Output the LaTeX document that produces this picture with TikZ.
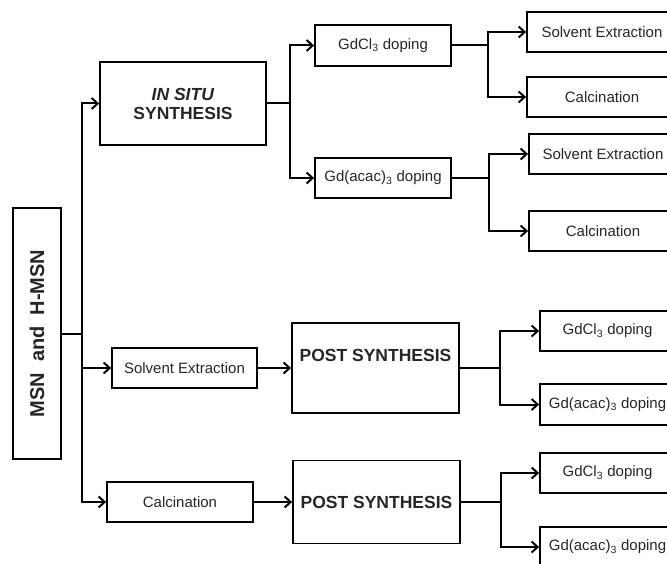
\documentclass[tikz,border=0pt]{standalone}
\usepackage{fontspec}
\setmainfont{Liberation Sans}
\usetikzlibrary{arrows.meta}
\begin{document}
\begin{tikzpicture}[x=1pt,y=-1pt,
  box/.style={draw, line width=1.8pt, rectangle, inner sep=0pt, align=center, text=black!85},
  small/.style={box, font=\fontsize{15}{17}\selectfont},
  big/.style={box, font=\bfseries\fontsize{17.5}{19}\selectfont},
  conn/.style={draw, line width=2pt},
  arr/.style={conn, -{Straight Barb[length=6pt,width=11pt,line width=2pt]}},
  ]
\useasboundingbox (0,0) rectangle (667,564);
\clip (0,0) rectangle (667,564);
% main box
\node[box, rotate=90, minimum width=251, minimum height=48,
      font=\bfseries\fontsize{20}{22}\selectfont] (msn) at (37,333.5) {MSN\ \ and\ \ H-MSN};
% in situ branch
\node[big, minimum width=166, minimum height=83] (insitu) at (183,103.5) {\textit{IN SITU}\\SYNTHESIS};
\node[small, minimum width=136, minimum height=41] (gdclA) at (383,45.5) {GdCl\textsubscript{3} doping};
\node[small, minimum width=136, minimum height=40] (gdacA) at (383,178) {Gd(acac)\textsubscript{3} doping};
\node[small, minimum width=150, minimum height=40] (seA) at (602,32) {Solvent Extraction};
\node[small, minimum width=150, minimum height=40] (caA) at (602,97) {Calcination};
\node[small, minimum width=148, minimum height=40] (seB) at (603,154) {Solvent Extraction};
\node[small, minimum width=148, minimum height=40] (caB) at (603,231) {Calcination};
% post synthesis branches
\node[small, minimum width=145, minimum height=40] (seL) at (184.5,368) {Solvent Extraction};
\node[small, minimum width=146, minimum height=40] (caL) at (180,502) {Calcination};
\node[box, minimum width=167, minimum height=90] (post1) at (375.5,368) {};
\node[font=\bfseries\fontsize{17.5}{19}\selectfont, text=black!85] (post1t) at ([yshift=13pt]post1.center) {POST SYNTHESIS};
\node[big, minimum width=167, minimum height=83] (post2) at (376.5,502) {POST SYNTHESIS};
\node[small, minimum width=135, minimum height=40] (gdclB) at (607.5,331) {GdCl\textsubscript{3} doping};
\node[small, minimum width=135, minimum height=41] (gdacB) at (607.5,404.5) {Gd(acac)\textsubscript{3} doping};
\node[small, minimum width=135, minimum height=40] (gdclC) at (607.5,473) {GdCl\textsubscript{3} doping};
\node[small, minimum width=135, minimum height=40] (gdacC) at (607.5,547) {Gd(acac)\textsubscript{3} doping};
% junctions
\coordinate (j0) at (82,333.5);
\coordinate (j1) at (290,103.5);
\coordinate (j2) at (488,45.5);
\coordinate (j3) at (489,178);
\coordinate (j4) at (500,368);
\coordinate (j5) at (501,502);
% connectors
\path[conn] (msn.south) -- (j0);
\path[arr] (j0) |- (insitu.west);
\path[arr] (j0) |- (seL.west);
\path[arr] (j0) |- (caL.west);
\path[conn] (insitu.east) -- (j1);
\path[arr] (j1) |- (gdclA.west);
\path[arr] (j1) |- (gdacA.west);
\path[conn] (gdclA.east) -- (j2);
\path[arr] (j2) |- (seA.west);
\path[arr] (j2) |- (caA.west);
\path[conn] (gdacA.east) -- (j3);
\path[arr] (j3) |- (seB.west);
\path[arr] (j3) |- (caB.west);
\path[arr] (seL.east) -- (post1.west);
\path[arr] (caL.east) -- (post2.west);
\path[conn] (post1.east) -- (j4);
\path[arr] (j4) |- (gdclB.west);
\path[arr] (j4) |- (gdacB.west);
\path[conn] (post2.east) -- (j5);
\path[arr] (j5) |- (gdclC.west);
\path[arr] (j5) |- (gdacC.west);
\end{tikzpicture}
\end{document}
